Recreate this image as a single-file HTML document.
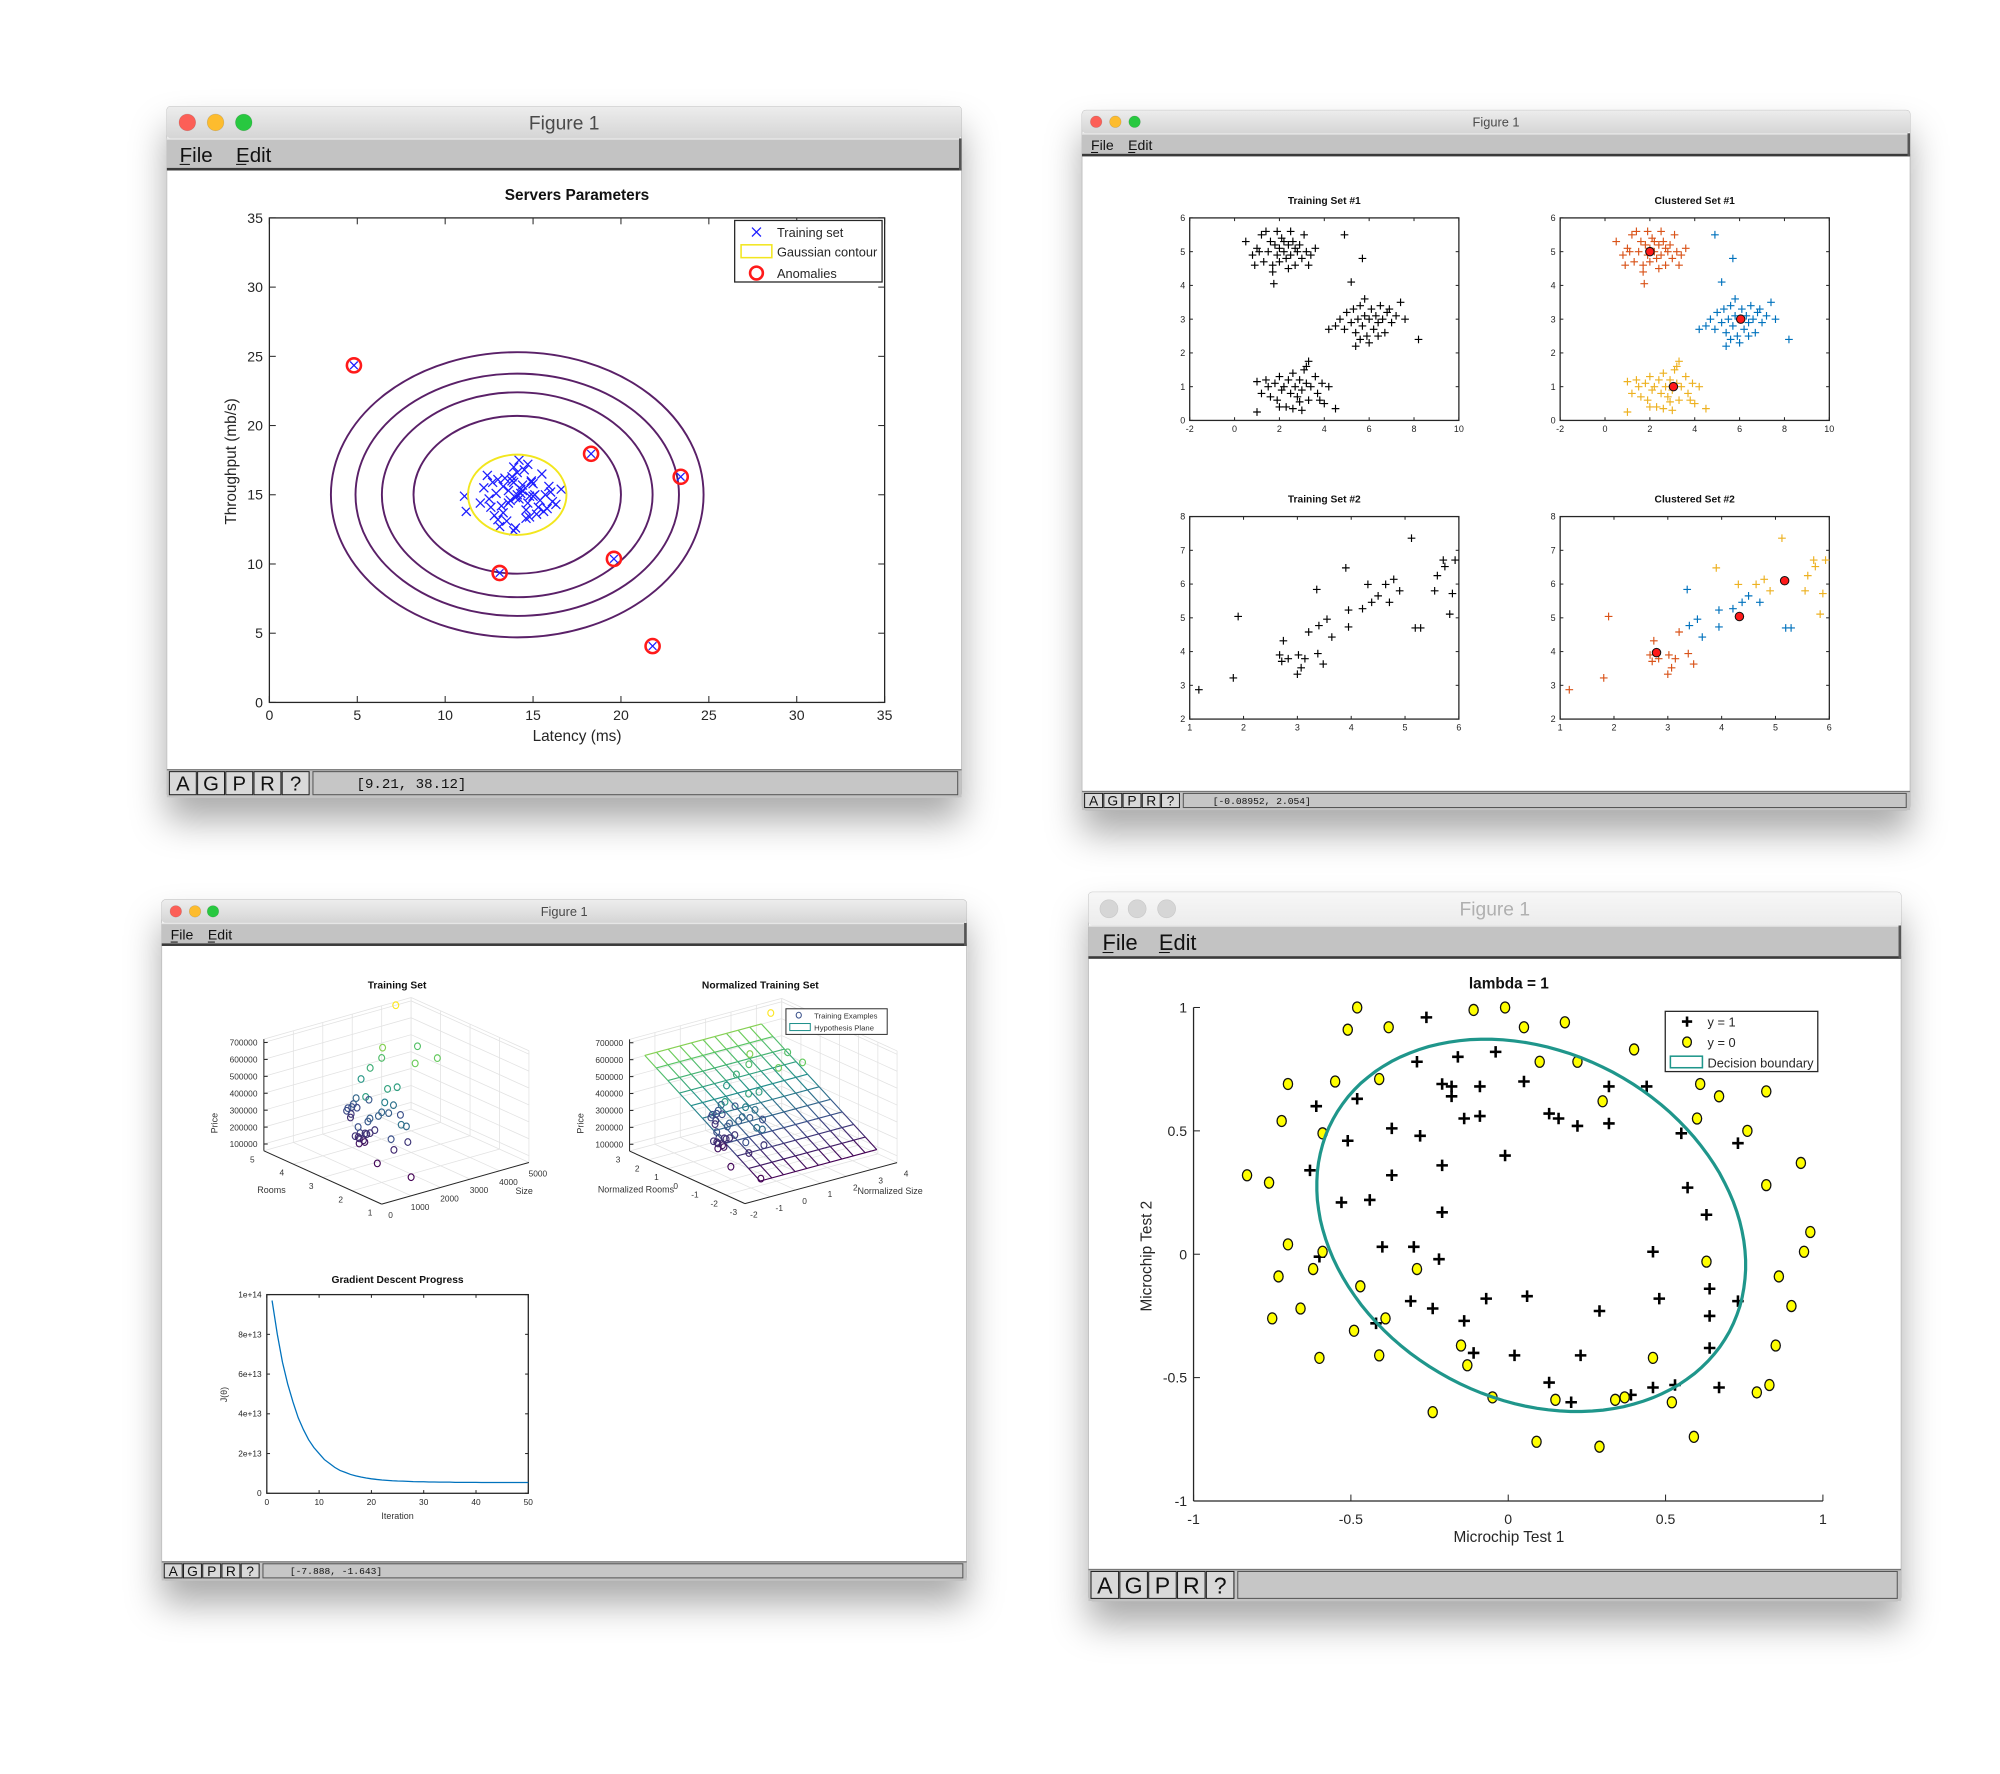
<!DOCTYPE html>
<html><head><meta charset="utf-8"><style>
html,body{margin:0;padding:0;background:#fff;width:2000px;height:1774px;overflow:hidden}
svg{display:block;font-family:"Liberation Sans",sans-serif}
.mono{font-family:"Liberation Mono",monospace}
</style></head><body>
<svg id="root" width="2000" height="1774" viewBox="0 0 1560 1384" xmlns="http://www.w3.org/2000/svg">
<defs>
<filter id="sh" x="-20%" y="-20%" width="140%" height="150%"><feDropShadow dx="0" dy="18" stdDeviation="14" flood-color="#000" flood-opacity="0.33"/></filter>
<linearGradient id="tbg" x1="0" y1="0" x2="0" y2="1"><stop offset="0" stop-color="#ededed"/><stop offset="1" stop-color="#d5d5d5"/></linearGradient>
<linearGradient id="tbgi" x1="0" y1="0" x2="0" y2="1"><stop offset="0" stop-color="#f7f7f7"/><stop offset="1" stop-color="#ececec"/></linearGradient>
</defs>
<g id="layer"></g>
</svg>
<script>
// ===== Data: Servers Parameters =====
const serverX=[14.1,13.2,15.0,14.6,13.8,12.9,15.4,14.3,13.5,14.9,16.0,12.5,13.9,14.7,15.2,13.0,14.4,15.8,12.7,14.0,13.6,15.5,14.8,13.3,16.3,12.2,14.5,15.1,13.7,14.2,12.0,15.9,13.1,14.6,16.6,11.1,13.4,15.3,14.9,12.8,14.0,13.8,15.6,14.3,12.4,16.1,13.0,14.7,11.2,13.9,14.4,13.6,15.0,14.1,12.6,15.7,13.3,14.8,14.2,13.9];
const serverY=[15.0,14.2,15.8,13.9,16.3,15.1,14.6,15.4,13.1,16.0,15.2,14.7,17.0,14.4,13.6,16.1,15.7,14.0,15.9,12.6,15.3,16.5,14.9,13.7,14.3,15.5,16.8,15.0,14.6,17.5,14.4,15.6,12.7,13.3,15.4,14.9,16.2,14.1,15.9,13.5,14.8,16.0,13.8,15.1,16.4,14.5,13.2,17.2,13.8,12.4,15.3,14.4,14.9,16.6,14.1,15.0,15.6,13.4,14.7,15.9];
const anomalyX=[4.81,18.3,23.4,13.1,19.6,21.8];
const anomalyY=[24.35,17.96,16.3,9.35,10.37,4.07];
const gaussCenter=[14.1,15.0];
const contourRx=[2.8,5.9,7.7,9.2,10.6];
const contourRy=[2.9,5.7,7.4,8.75,10.3];
const serverTicks=[0,5,10,15,20,25,30,35];
// ===== Data: K-means =====
const set1X=[0.5,0.8,1.0,1.2,1.3,1.5,1.6,1.7,1.8,1.9,2.0,2.0,2.1,2.2,2.3,2.4,2.5,2.6,2.7,2.8,2.9,3.0,3.1,3.2,3.4,3.6,1.4,2.5,0.9,1.7,2.4,3.3,1.1,2.2,1.9,2.7,1.75,4.9,
 4.2,4.5,4.7,4.9,5.0,5.2,5.3,5.4,5.5,5.6,5.7,5.8,5.9,6.0,6.1,6.2,6.3,6.4,6.5,6.6,6.7,6.8,7.0,7.2,7.4,7.6,5.6,6.0,6.4,5.4,8.2,5.7,5.2,6.9,5.8,
 1.0,1.2,1.4,1.6,1.8,1.9,2.0,2.1,2.2,2.3,2.4,2.5,2.6,2.7,2.8,2.9,3.0,3.1,3.2,3.3,3.4,3.6,3.7,3.9,4.0,4.2,2.0,3.0,1.0,3.3,3.2,2.6,4.5,3.8,1.5,2.9];
const set1Y=[5.3,4.9,5.1,5.5,4.7,5.0,5.3,4.6,5.2,4.9,5.1,4.7,5.4,5.0,4.8,5.2,4.9,5.3,4.6,5.0,5.2,4.8,5.5,5.0,4.9,5.1,5.6,5.6,4.6,4.4,4.5,4.6,5.0,5.3,5.6,5.1,4.05,5.5,
 2.7,2.8,3.0,2.7,3.2,2.9,3.3,2.6,3.0,3.4,2.8,3.1,2.5,3.0,3.3,2.7,3.1,2.9,3.4,3.0,2.6,3.2,2.9,3.1,3.5,3.0,2.4,2.3,2.5,2.2,2.4,4.8,4.1,3.3,3.6,
 1.15,0.8,1.2,0.7,1.1,0.6,1.3,0.9,1.0,0.4,1.2,0.8,1.4,1.0,0.7,1.2,0.9,1.5,1.1,0.6,1.0,1.3,0.8,1.1,0.5,1.0,0.4,0.3,0.25,1.75,1.6,0.35,0.35,0.6,1.0,0.55];
const cent1X=[2.0,6.05,3.05];
const cent1Y=[5.0,3.0,1.0];
const set2X=[1.17,1.81,1.90,2.74,2.67,2.83,2.71,3.02,3.07,3.14,3.21,3.40,3.00,3.48,3.38,3.36,3.55,3.64,3.90,3.95,3.95,4.21,4.31,4.38,4.50,4.64,4.71,4.79,4.90,5.12,5.19,5.29,5.55,5.60,5.71,5.93,5.83,5.88,5.74];
const set2Y=[2.87,3.22,5.04,4.32,3.90,3.79,3.71,3.90,3.52,3.79,4.58,4.77,3.33,3.63,3.94,5.84,4.96,4.43,6.48,4.73,5.23,5.27,5.99,5.46,5.65,5.99,5.46,6.14,5.80,7.36,4.70,4.70,5.80,6.25,6.71,6.71,5.11,5.72,6.52];
const cent2X=[2.79,4.33,5.17];
const cent2Y=[3.97,5.04,6.10];
const clusterColors=['#d95319','#0072bd','#edb120'];
// ===== Data: Housing (ex1data2) =====
const houseSize=[2104,1600,2400,1416,3000,1985,1534,1427,1380,1494,1940,2000,1890,4478,1268,2300,1320,1236,2609,3031,1767,1888,1604,1962,3890,1100,1458,2526,2200,2637,1839,1000,2040,3137,1811,1437,1239,2132,4215,2162,1664,2238,2567,1200,852,1852,1203];
const houseRooms=[3,3,3,2,4,4,3,3,3,3,4,3,3,5,3,4,2,3,4,4,3,2,3,4,3,3,3,3,3,3,2,1,4,3,4,3,3,4,4,4,2,3,4,3,2,4,3];
const housePrice=[399900,329900,369000,232000,539900,299900,314900,198999,212000,242500,239999,347000,329999,699900,259900,449900,299900,199900,499998,599000,252900,255000,242900,259900,573900,249900,464500,469000,475000,299900,349900,169900,314900,579900,285900,249900,229900,345000,549000,287000,368500,329900,314000,299000,179900,299900,239500];
const sizeMean=[2000.68], sizeStd=[794.70], roomsMean=[3.17], roomsStd=[0.761];
const planeIntercept=[385000], planeRoomSlope=[72000];
const priceTicks=[100000,200000,300000,400000,500000,600000,700000];
const sizeTicks=[0,1000,2000,3000,4000,5000];
const roomTicks=[1,2,3,4,5];
const nSizeTicks=[-2,-1,0,1,2,3,4];
const nRoomTicks=[-3,-2,-1,0,1,2,3];
// ===== Data: Gradient descent =====
const costJ=[9.7,8.0,6.6,5.5,4.6,3.8,3.2,2.7,2.3,2.0,1.7,1.5,1.3,1.15,1.05,0.95,0.88,0.82,0.77,0.73,0.70,0.67,0.65,0.63,0.62,0.61,0.60,0.59,0.58,0.58,0.57,0.57,0.56,0.56,0.56,0.55,0.55,0.55,0.55,0.55,0.54,0.54,0.54,0.54,0.54,0.54,0.54,0.54,0.54,0.54];
const iterTicks=[0,10,20,30,40,50];
const costTicks=[0,2,4,6,8,10];
const costTickLabels=['0','2e+13','4e+13','6e+13','8e+13','1e+14'];
// ===== Data: Microchip =====
const posX=[-0.26,-0.29,-0.16,-0.04,-0.21,-0.18,-0.09,0.05,0.32,0.44,-0.18,-0.48,-0.61,0.13,0.16,0.22,0.32,-0.14,-0.09,-0.37,-0.28,-0.51,0.55,0.73,-0.01,-0.21,-0.37,-0.63,0.57,0.63,-0.53,-0.44,-0.21,0.46,-0.60,-0.40,-0.30,-0.22,0.64,0.48,0.73,0.64,-0.31,-0.24,-0.07,0.06,0.29,-0.14,-0.42,-0.11,0.02,0.23,0.64,0.13,0.20,0.39,0.46,0.53,0.67];
const posY=[0.96,0.78,0.80,0.82,0.69,0.68,0.68,0.70,0.68,0.68,0.64,0.63,0.60,0.57,0.55,0.52,0.53,0.55,0.56,0.51,0.48,0.46,0.49,0.45,0.40,0.36,0.32,0.34,0.27,0.16,0.21,0.22,0.17,0.01,-0.01,0.03,0.03,-0.02,-0.14,-0.18,-0.19,-0.25,-0.19,-0.22,-0.18,-0.17,-0.23,-0.27,-0.28,-0.40,-0.41,-0.41,-0.38,-0.52,-0.60,-0.57,-0.54,-0.53,-0.54];
const negX=[-0.48,-0.11,-0.01,-0.51,-0.38,0.05,0.18,0.40,0.10,0.22,-0.70,-0.55,-0.41,0.61,0.67,0.82,0.30,0.60,-0.72,-0.59,0.76,0.93,-0.83,-0.76,0.82,0.96,-0.70,0.94,-0.59,-0.73,-0.29,-0.62,0.63,0.86,-0.47,0.90,-0.75,-0.66,-0.39,-0.49,0.85,-0.15,-0.60,-0.41,-0.13,0.46,0.83,0.79,0.34,0.15,-0.05,0.52,-0.24,0.59,0.09,0.29,0.37];
const negY=[1.00,0.99,1.00,0.91,0.92,0.92,0.94,0.83,0.78,0.78,0.69,0.70,0.71,0.69,0.64,0.66,0.62,0.55,0.54,0.49,0.50,0.37,0.32,0.29,0.28,0.09,0.04,0.01,0.01,-0.09,-0.06,-0.06,-0.03,-0.09,-0.13,-0.21,-0.26,-0.22,-0.26,-0.31,-0.37,-0.37,-0.42,-0.41,-0.45,-0.42,-0.53,-0.56,-0.59,-0.59,-0.58,-0.60,-0.64,-0.74,-0.76,-0.78,-0.58];
const boundaryC=[0.073,0.117], boundaryU=[0.63,-0.43], boundaryV=[-0.26,-0.62];
const chipTicks=[-1,-0.5,0,0.5,1];

const NS='http://www.w3.org/2000/svg';
const layer=document.getElementById('layer');
function mk(p,tag,a){const e=document.createElementNS(NS,tag);for(const k in a)e.setAttribute(k,a[k]);p.appendChild(e);return e;}
function txt(p,x,y,s,size,extra){const e=mk(p,'text',Object.assign({x:x,y:y,'font-size':size},extra||{}));e.textContent=s;return e;}
function lin(d0,d1,r0,r1){return v=>r0+(v-d0)/(d1-d0)*(r1-r0);}
function xm(p,x,y,s,c,w){return mk(p,'path',{d:`M${x-s} ${y-s}L${x+s} ${y+s}M${x-s} ${y+s}L${x+s} ${y-s}`,stroke:c,'stroke-width':w,fill:'none'});}
function pm(p,x,y,s,c,w){return mk(p,'path',{d:`M${x-s} ${y}L${x+s} ${y}M${x} ${y-s}L${x} ${y+s}`,stroke:c,'stroke-width':w,fill:'none'});}
const vir=[[68,1,84],[59,82,139],[33,145,140],[94,201,98],[253,231,37]];
function viridis(t){t=Math.max(0,Math.min(1,t))*4;const i=Math.min(3,Math.floor(t)),f=t-i;const a=vir[i],b=vir[i+1];return `rgb(${a.map((v,k)=>Math.round(v+(b[k]-v)*f)).join(',')})`;}

// ===== Window chrome =====
function windowChrome(c){
  const g=mk(layer,'g',{});
  
  
  mk(g,'rect',{x:c.x,y:c.y,width:c.w,height:c.h,fill:'#fff',stroke:'#b5b5b5','stroke-width':0.6,filter:'url(#sh)',rx:3});
  const tb=mk(g,'rect',{x:c.x,y:c.y,width:c.w,height:c.tb,fill:c.active?'url(#tbg)':'url(#tbgi)',rx:3});
  
  
  const cols=c.active?['#fc5f57','#fdbc2e','#28c840']:['#d6d6d6','#d6d6d6','#d6d6d6'];
  const names=['close-button','minimize-button','zoom-button'];
  for(let i=0;i<3;i++){
    const d=mk(g,'circle',{cx:c.dotX[i],cy:c.y+c.tb/2,r:c.dotR,fill:cols[i],stroke:c.active?'rgba(0,0,0,0.15)':'#c8c8c8','stroke-width':0.5});
    
    
  }
  const t=txt(g,c.x+c.w/2-(c.titleShift||0),c.y+c.tb/2+c.titleSize*0.36,'Figure 1',c.titleSize,{'text-anchor':'middle',fill:c.active?'#4a4a4a':'#b0b0b0'});
  
  
  const my=c.y+c.tb;
  const mb=mk(g,'rect',{x:c.x,y:my,width:c.w,height:c.mb,fill:'#c3c3c3'});
  
  
  mk(g,'line',{x1:c.x,y1:my+0.5,x2:c.x+c.w,y2:my+0.5,stroke:'#e6e6e6','stroke-width':1});
  mk(g,'rect',{x:c.x,y:my+c.mb-2,width:c.w,height:2,fill:'#3a3a3a'});
  mk(g,'rect',{x:c.x+c.w-2,y:my,width:2,height:c.mb,fill:'#555'});
  const fy=my+c.mb/2+c.menuSize*0.36;
  const f=txt(g,c.fileX,fy,'File',c.menuSize,{fill:'#111'});
  
  
  const e=txt(g,c.editX,fy,'Edit',c.menuSize,{fill:'#111'});
  
  
  mk(g,'line',{x1:c.fileX,y1:fy+2,x2:c.fileX+c.menuSize*0.5,y2:fy+2,stroke:'#111','stroke-width':0.8});
  mk(g,'line',{x1:c.editX,y1:fy+2,x2:c.editX+c.menuSize*0.5,y2:fy+2,stroke:'#111','stroke-width':0.8});
  const sy=c.y+c.h-c.sb;
  const sbar=mk(g,'rect',{x:c.x,y:sy,width:c.w,height:c.sb,fill:'#c3c3c3'});
  
  
  mk(g,'line',{x1:c.x,y1:sy+0.5,x2:c.x+c.w,y2:sy+0.5,stroke:'#777','stroke-width':1});
  const letters=['A','G','P','R','?'];
  const bnames=['axes-button','grid-button','pan-button','rotate-button','help-button'];
  for(let i=0;i<5;i++){
    const bx=c.x+2+i*c.btnW;
    const b=mk(g,'rect',{x:bx,y:sy+2,width:c.btnW-1,height:c.sb-4,fill:'#d9d9d9',stroke:'#222','stroke-width':0.8});
    
    
    txt(g,bx+c.btnW/2-0.5,sy+c.sb/2+c.sb*0.26,letters[i],c.sb*0.72,{'text-anchor':'middle',fill:'#111'});
  }
  const fx=c.x+4+5*c.btnW;
  const fld=mk(g,'rect',{x:fx,y:sy+2,width:c.x+c.w-3-fx,height:c.sb-4,fill:'#c6c6c6',stroke:'#555','stroke-width':0.8});
  
  
  if(c.status){const st=txt(g,c.statusTextX,sy+c.sb/2+c.monoSize*0.35,c.status,c.monoSize,{class:'mono',fill:'#111'});
    
    }
  return g;
}
const w1=windowChrome({name:'window-servers',x:130,y:83,w:620,h:539,tb:25,mb:25,sb:22,titleSize:15,menuSize:16,dotR:6.5,dotX:[146,168,190],active:true,status:'[9.21, 38.12]',btnW:22,fileX:140,editX:184,statusTextX:278,monoSize:11});
const w2=windowChrome({name:'window-kmeans',x:844,y:86,w:646,h:546,tb:18,mb:18,sb:15,titleSize:10,menuSize:11,dotR:4.5,dotX:[855,870,885],active:true,status:'[-0.08952, 2.054]',btnW:15,fileX:851,editX:880,statusTextX:946,monoSize:7.5});
const w3=windowChrome({name:'window-housing',x:126,y:702,w:628,h:531,tb:18,mb:18,sb:15,titleSize:10,menuSize:11,dotR:4.5,dotX:[137,152,166],active:true,status:'[-7.888, -1.643]',btnW:15,fileX:133,editX:162,statusTextX:226,monoSize:7.5});
const w4=windowChrome({name:'window-microchip',x:849,y:696,w:634,h:553,tb:26,mb:26,sb:25,titleSize:15,menuSize:17,dotR:7,dotX:[865,887,910],active:false,status:'',btnW:22.5,fileX:860,editX:904});

// generic 2D box axes
function box2d(p,L,T,R,B,xt,yt,sx,sy,fs,tl,xLab,yLab,gap){
  const a=mk(p,'rect',{x:L,y:T,width:R-L,height:B-T,fill:'none',stroke:'#262626','stroke-width':1});
  
  
  xt.forEach((v,i)=>{const x=sx(v);
    mk(p,'line',{x1:x,y1:B,x2:x,y2:B-tl,stroke:'#262626','stroke-width':0.8});
    mk(p,'line',{x1:x,y1:T,x2:x,y2:T+tl,stroke:'#262626','stroke-width':0.8});
    const t=txt(p,x,B+gap+fs*0.8,xLab?xLab[i]:String(v),fs,{'text-anchor':'middle',fill:'#262626'});
    
    });
  yt.forEach((v,i)=>{const y=sy(v);
    mk(p,'line',{x1:L,y1:y,x2:L+tl,y2:y,stroke:'#262626','stroke-width':0.8});
    mk(p,'line',{x1:R,y1:y,x2:R-tl,y2:y,stroke:'#262626','stroke-width':0.8});
    const t=txt(p,L-gap,y+fs*0.35,yLab?yLab[i]:String(v),fs,{'text-anchor':'end',fill:'#262626'});
    
    });
}

// ===== Chart 1: Servers =====
(function(){
  const g=mk(w1,'g',{});
  
  
  const sx=lin(0,35,210,690), sy=lin(0,35,548,170);
  const t=txt(g,450,156,'Servers Parameters',12,{'text-anchor':'middle','font-weight':'bold',fill:'#111'});
  
  
  box2d(g,210,170,690,548,serverTicks,serverTicks,sx,sy,11,5,null,null,5);
  const xl=txt(g,450,578,'Latency (ms)',12,{'text-anchor':'middle',fill:'#262626'});
  
  
  const yl=txt(g,0,0,'Throughput (mb/s)',12,{'text-anchor':'middle',fill:'#262626',transform:'translate(184,360) rotate(-90)'});
  
  
  for(let i=0;i<serverX.length;i++){
    const m=xm(g,sx(serverX[i]),sy(serverY[i]),3.5,'#1f1fff',1);
    
    
  }
  for(let i=0;i<contourRx.length;i++){
    const rx=sx(gaussCenter[0]+contourRx[i])-sx(gaussCenter[0]);
    const ry=sy(gaussCenter[1])-sy(gaussCenter[1]+contourRy[i]);
    const e=mk(g,'ellipse',{cx:sx(gaussCenter[0]),cy:sy(gaussCenter[1]),rx:rx,ry:ry,fill:'none',stroke:i==0?'#f2e61e':'#5a2068','stroke-width':1.5});
    
    
  }
  for(let i=0;i<anomalyX.length;i++){
    const x=sx(anomalyX[i]),y=sy(anomalyY[i]);
    const c=mk(g,'circle',{cx:x,cy:y,r:5.5,fill:'none',stroke:'#ff1a1a','stroke-width':2});
    
    
    xm(g,x,y,3,'#1f1fff',1);
  }
  const lg=mk(g,'g',{});
  
  
  mk(lg,'rect',{x:573,y:172,width:115,height:48,fill:'#fff',stroke:'#262626','stroke-width':1});
  xm(lg,590,181,3.5,'#1f1fff',1);
  txt(lg,606,185,'Training set',10,{fill:'#262626'});
  mk(lg,'rect',{x:578,y:191,width:24,height:10,fill:'none',stroke:'#f2e61e','stroke-width':1.2});
  txt(lg,606,200,'Gaussian contour',10,{fill:'#262626'});
  mk(lg,'circle',{cx:590,cy:213,r:5,fill:'none',stroke:'#ff1a1a','stroke-width':2});
  txt(lg,606,217,'Anomalies',10,{fill:'#262626'});
})();

// ===== Chart 2: K-means =====
function kmeansPlot(name,L,T,title,xs,ys,xd,yd,xt,yt,cx,cy){
  const g=mk(w2,'g',{});
  
  
  const R=L+210,B=T+158;
  const sx=lin(xd[0],xd[1],L,R), sy=lin(yd[0],yd[1],B,T);
  const t=txt(g,(L+R)/2,T-11,title,8,{'text-anchor':'middle','font-weight':'bold',fill:'#111'});
  
  
  box2d(g,L,T,R,B,xt,yt,sx,sy,7,2.5,null,null,3.5);
  for(let i=0;i<xs.length;i++){
    let col='#000';
    if(cx){let best=0,bd=1e9;for(let k=0;k<cx.length;k++){const d=(xs[i]-cx[k])**2+(ys[i]-cy[k])**2;if(d<bd){bd=d;best=k;}}col=clusterColors[best];}
    const m=pm(g,sx(xs[i]),sy(ys[i]),3,col,0.9);
    
    
  }
  if(cx){for(let k=0;k<cx.length;k++){
    const c=mk(g,'circle',{cx:sx(cx[k]),cy:sy(cy[k]),r:3.3,fill:'#ff1a1a',stroke:'#111','stroke-width':0.8});
    
    }}
}
kmeansPlot('training-set-1',928,170,'Training Set #1',set1X,set1Y,[-2,10],[0,6],[-2,0,2,4,6,8,10],[0,1,2,3,4,5,6],null,null);
kmeansPlot('clustered-set-1',1217,170,'Clustered Set #1',set1X,set1Y,[-2,10],[0,6],[-2,0,2,4,6,8,10],[0,1,2,3,4,5,6],cent1X,cent1Y);
kmeansPlot('training-set-2',928,403,'Training Set #2',set2X,set2Y,[1,6],[2,8],[1,2,3,4,5,6],[2,3,4,5,6,7,8],null,null);
kmeansPlot('clustered-set-2',1217,403,'Clustered Set #2',set2X,set2Y,[1,6],[2,8],[1,2,3,4,5,6],[2,3,4,5,6,7,8],cent2X,cent2Y);

// ===== Chart 3: 3D housing =====
function plot3d(name,O,S,Rv,sd,rd,title,ss,rs,ps,st,rt,sLab,rLab,plane){
  const g=mk(w3,'g',{});
  
  
  const z0=60000,z1=720000,zs=13.2/100000;
  const P=(s,r,z)=>{const a=(s-sd[0])/(sd[1]-sd[0]),b=(r-rd[0])/(rd[1]-rd[0]);return [O[0]+a*S[0]+b*Rv[0],O[1]+a*S[1]+b*Rv[1]-(z-z0)*zs];};
  const gl=(a,b,c,w)=>mk(g,'line',{x1:a[0],y1:a[1],x2:b[0],y2:b[1],stroke:c,'stroke-width':w});
  st.forEach(s=>{gl(P(s,rd[0],z0),P(s,rd[1],z0),'#e2e2e2',0.6);gl(P(s,rd[1],z0),P(s,rd[1],z1),'#e2e2e2',0.6);});
  rt.forEach(r=>{gl(P(sd[0],r,z0),P(sd[1],r,z0),'#e2e2e2',0.6);gl(P(sd[1],r,z0),P(sd[1],r,z1),'#e2e2e2',0.6);});
  priceTicks.forEach(p=>{gl(P(sd[0],rd[1],p),P(sd[1],rd[1],p),'#e2e2e2',0.6);gl(P(sd[1],rd[1],p),P(sd[1],rd[0],p),'#e2e2e2',0.6);});
  gl(P(sd[0],rd[1],z1),P(sd[1],rd[1],z1),'#e2e2e2',0.6);gl(P(sd[1],rd[1],z1),P(sd[1],rd[0],z1),'#e2e2e2',0.6);
  gl(P(sd[0],rd[0],z0),P(sd[1],rd[0],z0),'#262626',0.8);
  gl(P(sd[0],rd[0],z0),P(sd[0],rd[1],z0),'#262626',0.8);
  gl(P(sd[0],rd[1],z0),P(sd[0],rd[1],z1),'#262626',0.8);
  st.forEach(s=>{const a=P(s,rd[0],z0);const t=txt(g,a[0]+7,a[1]+11,String(s),6.5,{'text-anchor':'middle',fill:'#333'});
    
    });
  rt.forEach(r=>{const a=P(sd[0],r,z0);const t=txt(g,a[0]-9,a[1]+9,String(r),6.5,{'text-anchor':'middle',fill:'#333'});
    
    });
  priceTicks.forEach(p=>{const a=P(sd[0],rd[1],p);gl(a,[a[0]+3,a[1]],'#262626',0.8);const t=txt(g,a[0]-5,a[1]+2.5,String(p),6.5,{'text-anchor':'end',fill:'#333'});
    
    });
  const pt=P(sd[0],rd[1],(z0+z1)/2);
  txt(g,0,0,'Price',7,{'text-anchor':'middle',fill:'#333',transform:`translate(${pt[0]-36},${pt[1]+22}) rotate(-90)`});
  const sa=P(sd[1]*0.55+sd[0]*0.45,rd[0],z0);txt(g,sa[0]+48,sa[1]+10,sLab,7,{'text-anchor':'middle',fill:'#333'});
  const ra=P(sd[0],(rd[0]+rd[1])/2,z0);txt(g,ra[0]-40,ra[1]+12,rLab,7,{'text-anchor':'middle',fill:'#333'});
  const tp=txt(g,O[0]+12,771,title,8,{'text-anchor':'middle','font-weight':'bold',fill:'#111'});
  
  
  if(plane){
    const n=10;
    for(let i=0;i<=n;i++){
      const s=plane.s0+(plane.s1-plane.s0)*i/n;
      for(let j=0;j<n;j++){const r0=rd[0]+(rd[1]-rd[0])*j/n,r1=rd[0]+(rd[1]-rd[0])*(j+1)/n;
        const p0=plane.a+plane.b*r0,p1=plane.a+plane.b*r1;
        const l=gl(P(s,r0,p0),P(s,r1,p1),viridis(((p0+p1)/2-169900)/530000),0.9);
        }
    }
    for(let j=0;j<=n;j++){const r=rd[0]+(rd[1]-rd[0])*j/n;const p=plane.a+plane.b*r;
      const l=gl(P(plane.s0,r,p),P(plane.s1,r,p),viridis((p-169900)/530000),0.9);
      }
  }
  for(let i=0;i<ss.length;i++){
    const a=P(ss[i],rs[i],ps[i]);
    const c=mk(g,'ellipse',{cx:a[0],cy:a[1],rx:2.3,ry:2.6,fill:'none',stroke:viridis((ps[i]-169900)/530000),'stroke-width':0.9});
    
    
  }
  return g;
}
plot3d('training-set-3d',[297.6,939.4],[114.9,-32.5],[-91.9,-41.6],[0,5000],[1,5],'Training Set',houseSize,houseRooms,housePrice,sizeTicks,roomTicks,'Size','Rooms',null);
const nS=houseSize.map(v=>(v-sizeMean[0])/sizeStd[0]);
const nR=houseRooms.map(v=>(v-roomsMean[0])/roomsStd[0]);
const g3b=plot3d('normalized-set-3d',[581,939],[118.7,-32],[-90,-41],[-2,4],[-3,3],'Normalized Training Set',nS,nR,housePrice,nSizeTicks,nRoomTicks,'Normalized Size','Normalized Rooms',{s0:-1.4,s1:3.2,a:planeIntercept[0],b:planeRoomSlope[0]});
(function(){
  const lg=mk(g3b,'g',{});
  
  
  mk(lg,'rect',{x:613,y:787,width:79,height:20,fill:'#fff',stroke:'#333','stroke-width':0.8});
  mk(lg,'ellipse',{cx:623,cy:792,rx:2,ry:2.3,fill:'none',stroke:'#3b528b','stroke-width':0.8});
  txt(lg,635,794.5,'Training Examples',6,{fill:'#333'});
  mk(lg,'rect',{x:616,y:798.5,width:16,height:5.5,fill:'none',stroke:'#21918c','stroke-width':0.8});
  txt(lg,635,804,'Hypothesis Plane',6,{fill:'#333'});
})();
(function(){
  const g=mk(w3,'g',{});
  
  
  const sx=lin(0,50,208,412), sy=lin(0,10,1165,1010);
  const t=txt(g,310,1001,'Gradient Descent Progress',8,{'text-anchor':'middle','font-weight':'bold',fill:'#111'});
  
  
  box2d(g,208,1010,412,1165,iterTicks,costTicks,sx,sy,6.5,2.5,null,costTickLabels,4);
  txt(g,310,1185,'Iteration',7,{'text-anchor':'middle',fill:'#333'});
  txt(g,0,0,'J(θ)',7,{'text-anchor':'middle',fill:'#333',transform:'translate(177,1088) rotate(-90)'});
  const d=costJ.map((v,i)=>(i?'L':'M')+sx(i+1).toFixed(1)+' '+sy(v).toFixed(1)).join('');
  const l=mk(g,'path',{d:d,fill:'none',stroke:'#0072bd','stroke-width':1});
  
  
})();

// ===== Chart 4: Microchip =====
(function(){
  const g=mk(w4,'g',{});
  
  
  const L=931,R=1422,T=786,B=1171;
  const sx=lin(-1,1,L,R), sy=lin(-1,1,B,T);
  const t=txt(g,1177,771,'lambda = 1',12,{'text-anchor':'middle','font-weight':'bold',fill:'#111'});
  
  
  mk(g,'line',{x1:L,y1:T,x2:L,y2:B,stroke:'#262626','stroke-width':1});
  mk(g,'line',{x1:L,y1:B,x2:R,y2:B,stroke:'#262626','stroke-width':1});
  chipTicks.forEach(v=>{
    mk(g,'line',{x1:sx(v),y1:B,x2:sx(v),y2:B-5,stroke:'#262626','stroke-width':0.8});
    mk(g,'line',{x1:L,y1:sy(v),x2:L+5,y2:sy(v),stroke:'#262626','stroke-width':0.8});
    const a=txt(g,sx(v),B+18,String(v),11,{'text-anchor':'middle',fill:'#262626'});
    
    
    const b=txt(g,L-5,sy(v)+4,String(v),11,{'text-anchor':'end',fill:'#262626'});
    
    
  });
  const xl=txt(g,1177,1203,'Microchip Test 1',12,{'text-anchor':'middle',fill:'#262626'});
  
  
  const yl=txt(g,0,0,'Microchip Test 2',12,{'text-anchor':'middle',fill:'#262626',transform:'translate(898,980) rotate(-90)'});
  
  
  for(let i=0;i<posX.length;i++){
    const m=pm(g,sx(posX[i]),sy(posY[i]),4.5,'#000',2);
    
    
  }
  for(let i=0;i<negX.length;i++){
    const c=mk(g,'ellipse',{cx:sx(negX[i]),cy:sy(negY[i]),rx:3.6,ry:4.3,fill:'#ffff00',stroke:'#111','stroke-width':1});
    
    
  }
  let d='';
  for(let k=0;k<=120;k++){const a=k/120*2*Math.PI;
    const x=boundaryC[0]+boundaryU[0]*Math.cos(a)+boundaryV[0]*Math.sin(a);
    const y=boundaryC[1]+boundaryU[1]*Math.cos(a)+boundaryV[1]*Math.sin(a);
    d+=(k?'L':'M')+sx(x).toFixed(1)+' '+sy(y).toFixed(1);}
  const bl=mk(g,'path',{d:d+'Z',fill:'none',stroke:'#1f968b','stroke-width':2.5});
  
  
  const lg=mk(g,'g',{});
  
  
  mk(lg,'rect',{x:1299,y:789,width:119,height:47,fill:'#fff',stroke:'#262626','stroke-width':1});
  pm(lg,1316,797,4,'#000',2);
  txt(lg,1332,801,'y = 1',10,{fill:'#262626'});
  mk(lg,'ellipse',{cx:1316,cy:813,rx:3.4,ry:4,fill:'#ffff00',stroke:'#111','stroke-width':1});
  txt(lg,1332,817,'y = 0',10,{fill:'#262626'});
  mk(lg,'rect',{x:1303,y:824,width:25,height:9,fill:'none',stroke:'#1f968b','stroke-width':1.2});
  txt(lg,1332,833,'Decision boundary',10,{fill:'#262626'});
})();
</script>
</body></html>
